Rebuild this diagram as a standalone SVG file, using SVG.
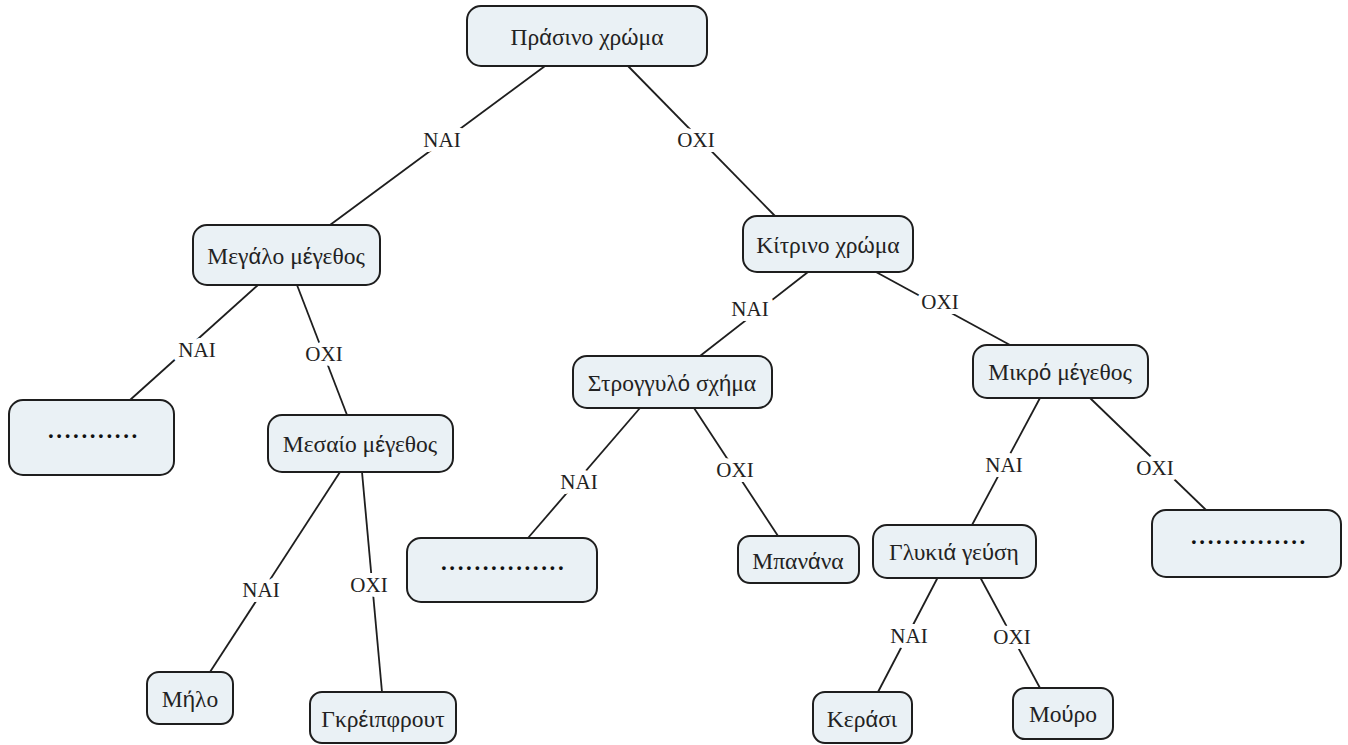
<svg xmlns="http://www.w3.org/2000/svg" width="1348" height="745" viewBox="0 0 1348 745">
<style>
.box{fill:#eaf1f5;stroke:#1e1e1e;stroke-width:2}
.t{font-family:"Liberation Serif","DejaVu Serif",serif;font-size:23.5px;fill:#222;text-anchor:middle;dominant-baseline:central}
.a{font-family:"Liberation Sans","DejaVu Sans",sans-serif;font-size:22px}
.d{font-family:"Liberation Serif","DejaVu Serif",serif;font-size:23px;fill:#111;font-weight:bold;letter-spacing:2.6px}
.e{stroke:#1e1e1e;stroke-width:1.8;fill:none}
.l{font-family:"Liberation Serif","DejaVu Serif",serif;font-size:21px;fill:#222;text-anchor:middle;dominant-baseline:central;stroke:#fff;stroke-width:10;paint-order:stroke;stroke-linejoin:round}
</style>
<rect width="1348" height="745" fill="#fff"/>
<g id="connectors">
<line class="e" x1="545" y1="66" x2="330" y2="225"/>
<line class="e" x1="628" y1="66" x2="775" y2="216"/>
<line class="e" x1="258" y1="285" x2="130" y2="400"/>
<line class="e" x1="297" y1="285" x2="347" y2="415"/>
<line class="e" x1="808" y1="272" x2="700" y2="356"/>
<line class="e" x1="876" y1="272" x2="1010" y2="345"/>
<line class="e" x1="640" y1="408" x2="528" y2="538"/>
<line class="e" x1="694" y1="408" x2="778" y2="536"/>
<line class="e" x1="1040" y1="398" x2="972" y2="525"/>
<line class="e" x1="1090" y1="398" x2="1206" y2="510"/>
<line class="e" x1="340" y1="472" x2="210" y2="672"/>
<line class="e" x1="362" y1="472" x2="382" y2="692"/>
<line class="e" x1="938" y1="577" x2="878" y2="692"/>
<line class="e" x1="980" y1="577" x2="1040" y2="688"/>
<text class="l" x="442" y="140">ΝΑΙ</text>
<text class="l" x="696" y="140">ΟΧΙ</text>
<text class="l" x="197" y="350">ΝΑΙ</text>
<text class="l" x="324" y="354">ΟΧΙ</text>
<text class="l" x="750" y="309">ΝΑΙ</text>
<text class="l" x="940" y="302">ΟΧΙ</text>
<text class="l" x="579" y="482">ΝΑΙ</text>
<text class="l" x="735" y="470">ΟΧΙ</text>
<text class="l" x="1004" y="465">ΝΑΙ</text>
<text class="l" x="1155" y="468">ΟΧΙ</text>
<text class="l" x="261" y="590">ΝΑΙ</text>
<text class="l" x="369" y="585">ΟΧΙ</text>
<text class="l" x="909" y="636">ΝΑΙ</text>
<text class="l" x="1012" y="637">ΟΧΙ</text>
</g>
<g id="n1"><rect class="box" x="467" y="6" width="240" height="60" rx="14"/><text class="t" x="587" y="37">Πρ<tspan class="a">ά</tspan>σινο χρ<tspan class="a">ώ</tspan>μα</text></g>
<g id="n2"><rect class="box" x="193" y="225" width="187" height="60" rx="14"/><text class="t" x="286" y="256">Μεγ<tspan class="a">ά</tspan>λο μ<tspan class="a">έ</tspan>γεθος</text></g>
<g id="n3"><rect class="box" x="9" y="400" width="165" height="75" rx="14"/><text class="d" x="48" y="438">...........</text></g>
<g id="n4"><rect class="box" x="743" y="216" width="170" height="56" rx="14"/><text class="t" x="828" y="245">Κίτρινο χρ<tspan class="a">ώ</tspan>μα</text></g>
<g id="n5"><rect class="box" x="573" y="356" width="199" height="52" rx="14"/><text class="t" x="672" y="383">Στρογγυλ<tspan class="a">ό</tspan> σχ<tspan class="a">ή</tspan>μα</text></g>
<g id="n6"><rect class="box" x="973" y="345" width="175" height="53" rx="14"/><text class="t" x="1060" y="372">Μικρ<tspan class="a">ό</tspan> μ<tspan class="a">έ</tspan>γεθος</text></g>
<g id="n7"><rect class="box" x="268" y="415" width="185" height="57" rx="14"/><text class="t" x="360" y="444">Μεσαίο μ<tspan class="a">έ</tspan>γεθος</text></g>
<g id="n8"><rect class="box" x="407" y="538" width="190" height="64" rx="14"/><text class="d" x="441" y="570">...............</text></g>
<g id="n9"><rect class="box" x="738" y="536" width="121" height="47" rx="12"/><text class="t" x="798" y="561">Μπαν<tspan class="a">ά</tspan>να</text></g>
<g id="n10"><rect class="box" x="873" y="525" width="163" height="53" rx="14"/><text class="t" x="954" y="552">Γλυκι<tspan class="a">ά</tspan> γε<tspan class="a">ύ</tspan>ση</text></g>
<g id="n11"><rect class="box" x="1152" y="510" width="189" height="67" rx="14"/><text class="d" x="1191" y="544">..............</text></g>
<g id="n12"><rect class="box" x="147" y="672" width="86" height="52" rx="12"/><text class="t" x="190" y="699">Μ<tspan class="a">ή</tspan>λο</text></g>
<g id="n13"><rect class="box" x="310" y="692" width="146" height="51" rx="12"/><text class="t" x="383" y="719">Γκρ<tspan class="a">έ</tspan>ιπφρουτ</text></g>
<g id="n14"><rect class="box" x="813" y="692" width="99" height="51" rx="12"/><text class="t" x="862" y="719">Κερ<tspan class="a">ά</tspan>σι</text></g>
<g id="n15"><rect class="box" x="1013" y="688" width="100" height="51" rx="12"/><text class="t" x="1063" y="714">Μο<tspan class="a">ύ</tspan>ρο</text></g>
</svg>
